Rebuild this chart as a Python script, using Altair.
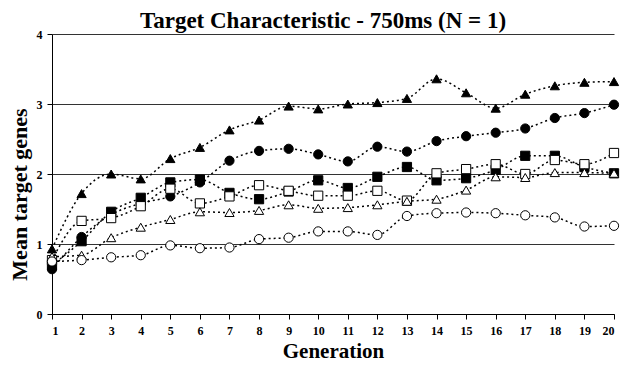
import altair as alt
import pandas as pd

generations = list(range(1, 21))
series_names = ["filled_triangle", "filled_circle", "filled_square",
                "open_square", "open_triangle", "open_circle"]
filled_triangle = [0.93, 1.72, 2.00, 1.93, 2.22, 2.38, 2.63, 2.77, 2.97, 2.93,
                   3.00, 3.02, 3.08, 3.36, 3.16, 2.94, 3.14, 3.26, 3.31, 3.32]
filled_circle = [0.64, 1.10, 1.42, 1.58, 1.68, 1.88, 2.19, 2.33, 2.36, 2.28,
                 2.18, 2.39, 2.32, 2.47, 2.54, 2.59, 2.65, 2.80, 2.87, 2.99]
filled_square = [0.70, 1.04, 1.46, 1.66, 1.88, 1.92, 1.73, 1.64, 1.75, 1.91,
                 1.80, 1.96, 2.10, 1.91, 1.94, 2.06, 2.26, 2.26, 2.10, 2.01]
open_square = [0.77, 1.33, 1.37, 1.54, 1.79, 1.58, 1.68, 1.84, 1.76, 1.69,
               1.69, 1.76, 1.62, 2.01, 2.07, 2.14, 2.00, 2.20, 2.14, 2.30]
open_triangle = [0.82, 0.84, 1.09, 1.24, 1.35, 1.46, 1.45, 1.48, 1.56, 1.51,
                 1.52, 1.56, 1.61, 1.64, 1.77, 1.96, 1.95, 2.02, 2.02, 2.01]
open_circle = [0.75, 0.77, 0.81, 0.84, 0.98, 0.94, 0.95, 1.07, 1.09, 1.18,
               1.18, 1.13, 1.40, 1.44, 1.45, 1.44, 1.41, 1.38, 1.25, 1.26]
shapes = ["triangle-up", "circle", "square", "square", "triangle-up", "circle"]
fills = ["black", "black", "black", "white", "white", "white"]

values = [filled_triangle, filled_circle, filled_square,
          open_square, open_triangle, open_circle]
rows = []
for k, (name, vals) in enumerate(zip(series_names, values)):
    for g, v in zip(generations, vals):
        rows.append({"series": name, "order": k, "Generation": g, "value": v})
df = pd.DataFrame(rows)

FONT = "Liberation Serif"

x = alt.X("Generation:Q", scale=alt.Scale(domain=[1, 20], nice=False, zero=False),
          axis=alt.Axis(values=generations, format="d", title="Generation",
                        grid=False, tickSize=5, labelPadding=6, titlePadding=4,
                        titleFontSize=21))
y = alt.Y("value:Q", scale=alt.Scale(domain=[0, 4], nice=False),
          axis=alt.Axis(values=[0, 1, 2, 3, 4], format="d", title="Mean target genes",
                        grid=True, gridColor="#333333", gridWidth=1,
                        tickSize=5, labelPadding=5, titlePadding=5,
                        titleFontSize=22, titleY=160))

base = alt.Chart(df)
lines = base.mark_line(interpolate="monotone", strokeDash=[2, 3], color="black",
                       strokeWidth=1.5).encode(x=x, y=y, detail="series:N")
points = base.mark_point(filled=True, size=85, stroke="black", strokeWidth=1,
                         opacity=1).encode(
    x=x, y=y,
    shape=alt.Shape("series:N", scale=alt.Scale(domain=series_names, range=shapes), legend=None),
    fill=alt.Fill("series:N", scale=alt.Scale(domain=series_names, range=fills), legend=None),
    order=alt.Order("order:Q"),
)

chart = alt.layer(lines, points).properties(
    width=562, height=280,
    title=alt.Title("Target Characteristic - 750ms (N = 1)", font=FONT, fontSize=23,
                    fontWeight="bold", color="black", dx=-10, offset=-5),
    autosize=alt.AutoSizeParams(type="none"),
    padding={"left": 44, "top": 26, "right": 10, "bottom": 54},
).configure_view(stroke=None).configure_axis(
    labelFont=FONT, labelFontSize=12, labelFontWeight="bold", labelColor="black",
    titleFont=FONT, titleFontWeight="bold", titleColor="black",
    domainColor="black", tickColor="black", domainWidth=1,
)

chart.save("out.html", embed_options={"renderer": "svg", "actions": False})
